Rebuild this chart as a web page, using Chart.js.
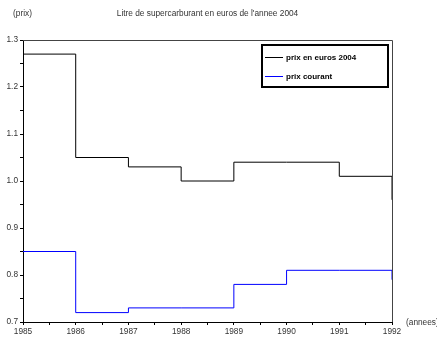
<!DOCTYPE html>
<html>
<head>
<meta charset="utf-8">
<script src="https://cdn.jsdelivr.net/npm/chart.js@4/dist/chart.umd.min.js"></script>
<style>
  body { margin: 0; background: #fff; }
  canvas { display: block; }
</style>
</head>
<body>
<canvas id="c" width="437" height="338"></canvas>
<script>
const years = [1985, 1986, 1987, 1988, 1989, 1990, 1991, 1992];
const prixEuros2004 = [1.27, 1.05, 1.03, 1.00, 1.04, 1.04, 1.01, 0.96];
const prixCourant = [0.85, 0.72, 0.73, 0.73, 0.78, 0.81, 0.81, 0.79];
const seriesNames = ["prix en euros 2004", "prix courant"];
const titleText = "Litre de supercarburant en euros de l'annee 2004";

const FONT = "'Liberation Sans', Arial, sans-serif";

// frame, titles, axis names and the boxed legend
const decor = {
    id: 'decor',
    afterDraw(chart) {
        const ctx = chart.ctx;
        const a = chart.chartArea;
        ctx.save();
        ctx.strokeStyle = '#444';
        ctx.lineWidth = 1;
        ctx.beginPath();
        ctx.moveTo(a.left, a.top + 0.5);
        ctx.lineTo(a.right + 0.5, a.top + 0.5);
        ctx.lineTo(a.right + 0.5, a.bottom);
        ctx.stroke();

        ctx.fillStyle = '#333';
        ctx.font = '8.3px ' + FONT;
        ctx.textBaseline = 'middle';
        ctx.textAlign = 'left';
        ctx.fillText('(prix)', 13, 14);
        ctx.textAlign = 'center';
        ctx.fillText(titleText, (a.left + a.right) / 2, 14);
        ctx.textAlign = 'left';
        ctx.fillText('(annees)', 406, 323);

        // legend box
        const bx = 262, by = 45, bw = 126, bh = 42;
        ctx.strokeStyle = '#000';
        ctx.lineWidth = 2;
        ctx.strokeRect(bx, by, bw, bh);
        ctx.font = 'bold 8px ' + FONT;
        chart.data.datasets.forEach((ds, i) => {
            const y = by + 12 + i * 19;
            ctx.strokeStyle = ds.borderColor;
            ctx.lineWidth = 1;
            ctx.beginPath();
            ctx.moveTo(bx + 3, y + 0.5);
            ctx.lineTo(bx + 21, y + 0.5);
            ctx.stroke();
            ctx.fillStyle = '#000';
            ctx.fillText(ds.label, bx + 24, y + 1);
        });
        ctx.restore();
    }
};

new Chart(document.getElementById('c'), {
    type: 'line',
    data: {
        datasets: [{
            label: seriesNames[0],
            data: years.map((y, i) => ({ x: y, y: prixEuros2004[i] })),
            borderColor: '#000000',
            borderWidth: 1,
            stepped: 'before',
            pointRadius: 0
        }, {
            label: seriesNames[1],
            data: years.map((y, i) => ({ x: y, y: prixCourant[i] })),
            borderColor: '#0000ff',
            borderWidth: 1,
            stepped: 'before',
            pointRadius: 0
        }]
    },
    options: {
        responsive: false,
        animation: false,
        layout: { padding: { top: 40, right: 45, left: 0, bottom: 0 } },
        plugins: { legend: { display: false }, tooltip: { enabled: false } },
        scales: {
            x: {
                type: 'linear',
                min: 1985,
                max: 1992,
                afterFit(s) { s.height = 16; },
                border: { color: '#000', width: 1 },
                grid: { drawOnChartArea: false, tickLength: 3, tickColor: '#000' },
                ticks: {
                    stepSize: 0.5,
                    autoSkip: false,
                    maxRotation: 0,
                    padding: 2,
                    color: '#333',
                    font: { family: FONT, size: 8.3 },
                    callback: v => Number.isInteger(v) ? String(v) : ''
                }
            },
            y: {
                min: 0.7,
                max: 1.3,
                afterFit(s) { s.width = 23; },
                border: { color: '#000', width: 1 },
                grid: { drawOnChartArea: false, tickLength: 3, tickColor: '#000' },
                ticks: {
                    stepSize: 0.05,
                    autoSkip: false,
                    padding: 2,
                    color: '#333',
                    font: { family: FONT, size: 8.3 },
                    callback: v => Math.abs(v * 10 - Math.round(v * 10)) < 1e-6 ? v.toFixed(1) : ''
                }
            }
        }
    },
    plugins: [decor]
});
</script>
</body>
</html>
